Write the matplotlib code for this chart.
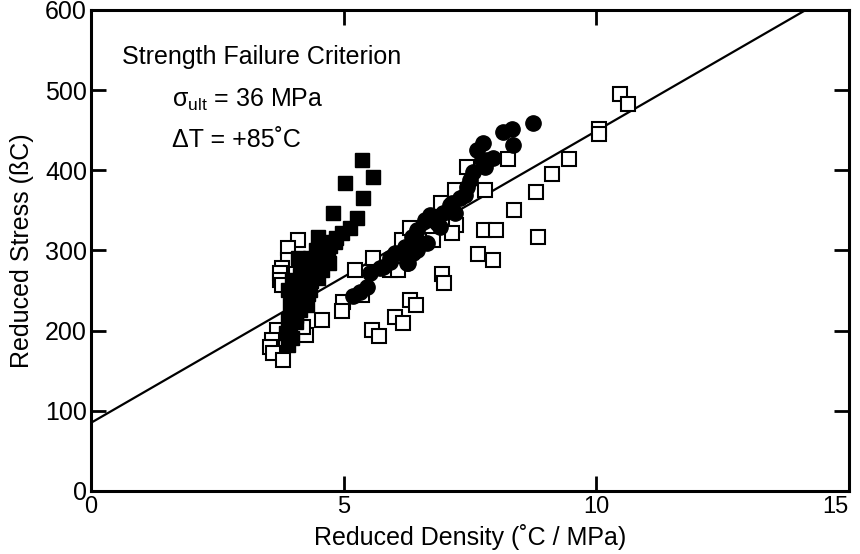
import matplotlib
matplotlib.use("Agg")
import matplotlib.pyplot as plt

plt.rcParams['font.family'] = ['Liberation Sans', 'DejaVu Sans']

# filled squares
sq_fill_x = [5.37, 5.58, 5.03, 5.39, 4.79, 5.27, 5.13, 4.97, 4.50, 4.83,
             4.69, 4.53, 4.34, 4.63, 4.44, 4.24, 4.14, 4.50, 4.30, 4.06,
             4.34, 4.14, 3.98, 4.24, 4.06, 3.94, 4.14, 3.98, 3.90, 4.06,
             3.94, 3.86, 3.98, 3.90, 4.02, 4.38, 4.57, 4.73, 3.98, 3.90,
             4.20, 4.40, 4.10, 4.30, 4.50, 4.60, 4.00, 4.45, 4.20, 4.35,
             4.65, 4.10, 4.25, 4.05, 4.70, 4.55, 4.85, 4.15, 4.28]
sq_fill_y = [413, 392, 384, 365, 347, 340, 328, 322, 317, 310,
             300, 294, 290, 286, 278, 276, 269, 266, 261, 257,
             251, 248, 244, 241, 236, 232, 226, 219, 213, 211,
             203, 197, 191, 182, 239, 281, 276, 306, 263, 251,
             255, 270, 230, 245, 285, 295, 225, 300, 283, 262,
             310, 290, 265, 218, 284, 305, 315, 240, 232]

# filled circles
circ_x = [5.19, 5.33, 5.47, 5.52, 5.72, 5.92, 5.78, 5.92, 6.02, 6.12,
          6.22, 6.26, 6.28, 6.38, 6.36, 6.46, 6.46, 6.51, 6.61, 6.65,
          6.71, 6.85, 7.15, 7.21, 7.31, 7.50, 7.64, 7.76, 7.84, 7.96,
          8.16, 8.34, 8.36, 8.75, 7.56, 7.44, 7.40, 7.10, 6.97, 6.90,
          7.80, 7.74]
circ_y = [243, 248, 254, 272, 278, 291, 279, 286, 297, 297,
          304, 284, 284, 297, 317, 325, 300, 309, 338, 309,
          344, 334, 359, 347, 365, 388, 425, 434, 413, 415,
          448, 451, 431, 459, 398, 379, 369, 357, 347, 329,
          404, 413]

# open squares
sq_open_x = [10.46, 10.63, 10.06, 10.06, 9.47, 9.13, 8.81, 8.38, 8.85, 8.26,
             7.45, 7.80, 7.21, 6.93, 7.23, 7.15, 7.78, 8.02, 7.66, 7.96,
             6.95, 6.99, 6.16, 6.32, 6.77, 5.92, 6.08, 6.32, 6.44, 6.02,
             6.18, 5.56, 5.70, 4.99, 4.97, 5.23, 5.58, 5.37,
             4.10, 3.90, 3.90, 3.78, 3.74, 3.74, 3.78,
             3.68, 3.58, 3.54, 3.60, 3.80, 4.25, 4.20, 4.57]
sq_open_y = [495, 483, 451, 445, 414, 395, 373, 350, 317, 414,
             404, 375, 375, 359, 332, 322, 325, 325, 295, 288,
             271, 259, 313, 328, 313, 276, 276, 238, 232, 217,
             209, 201, 193, 236, 224, 276, 291, 244,
             313, 303, 288, 278, 272, 263, 257,
             201, 188, 180, 172, 163, 195, 205, 213]

# criterion line end points
fit_x = [0, 15]
fit_y = [85, 631]


def main():
    fig = plt.figure(figsize=(8.6, 5.54), dpi=100)
    ax = fig.add_axes([0.106, 0.114, 0.881, 0.868])

    ax.plot(fit_x, fit_y, color='black', linewidth=1.6, zorder=1)
    ax.plot(sq_open_x, sq_open_y, 's', markersize=10, markerfacecolor='white',
            markeredgecolor='black', markeredgewidth=1.5, linestyle='none', zorder=2)
    ax.plot(sq_fill_x, sq_fill_y, 's', markersize=10, color='black',
            linestyle='none', zorder=3)
    ax.plot(circ_x, circ_y, 'o', markersize=11, color='black',
            linestyle='none', zorder=3)

    ax.set_xlim(0, 15)
    ax.set_ylim(0, 600)
    ax.set_xticks([0, 5, 10, 15])
    ax.set_yticks([0, 100, 200, 300, 400, 500, 600])
    ax.tick_params(direction='in', length=11, width=2, labelsize=18,
                   top=True, right=True)
    ax.tick_params(axis='x', pad=4, labelsize=17)
    ax.tick_params(axis='y', pad=3)
    for s in ax.spines.values():
        s.set_linewidth(2.2)
    # the "15" label sits a little left of the corner, as in the reference
    xlabels = ax.get_xticklabels()
    xlabels[-1].set_horizontalalignment('right')
    xlabels[-1].set_x(15)

    ax.set_xlabel("Reduced Density (˚C / MPa)", fontsize=18, labelpad=4)
    ax.set_ylabel("Reduced Stress (ßC)", fontsize=18, labelpad=8)

    ax.text(0.041, 0.902, "Strength Failure Criterion", transform=ax.transAxes,
            fontsize=18, va='center')
    ax.text(0.107, 0.813, r"$\mathregular{σ_{ult}}$ = 36 MPa", transform=ax.transAxes,
            fontsize=18, va='center')
    ax.text(0.107, 0.73, "ΔT = +85˚C", transform=ax.transAxes,
            fontsize=18, va='center')

    fig.savefig("out.png", dpi=100)


if __name__ == "__main__":
    main()
